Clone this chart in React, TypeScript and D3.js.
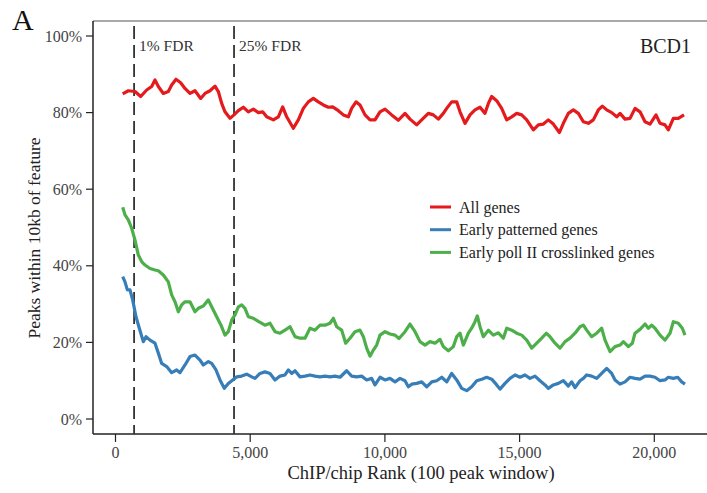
import React from "react";
import * as d3 from "d3";

const allGenes: [number, number][] = [[267,84.9],[476,85.7],[724,85.5],[935,84.2],[1157,85.9],[1343,86.8],[1466,88.5],[1590,86.8],[1775,85.0],[1961,85.5],[2085,87.2],[2246,88.7],[2419,87.8],[2580,86.3],[2765,85.0],[2951,85.7],[3162,83.7],[3322,85.0],[3508,85.7],[3693,86.9],[3817,85.5],[3941,82.4],[4065,80.2],[4250,78.5],[4399,79.4],[4560,80.5],[4745,81.4],[4931,80.2],[5117,80.9],[5302,80.0],[5463,80.2],[5612,78.9],[5860,78.1],[6045,78.9],[6205,81.5],[6354,78.9],[6601,75.9],[6787,78.1],[6972,81.1],[7157,82.8],[7343,83.7],[7528,82.8],[7714,82.0],[7900,81.4],[8061,81.5],[8272,80.5],[8457,79.4],[8643,78.9],[8766,81.1],[8928,82.8],[9076,82.0],[9262,79.4],[9447,78.1],[9633,78.1],[9818,80.2],[10004,80.9],[10252,79.4],[10499,78.0],[10746,79.8],[10932,78.3],[11179,76.8],[11365,78.1],[11612,79.8],[11798,79.4],[11983,78.3],[12169,79.8],[12293,81.1],[12479,82.8],[12665,82.8],[12788,80.2],[12974,77.2],[13159,79.4],[13345,80.7],[13531,81.4],[13716,79.8],[13840,82.4],[13964,84.2],[14149,83.1],[14335,81.1],[14521,78.1],[14707,78.9],[14892,79.8],[15078,79.4],[15264,78.1],[15511,75.5],[15696,76.8],[15882,77.0],[16067,78.1],[16253,77.0],[16476,74.8],[16624,77.2],[16809,79.8],[16995,80.7],[17181,79.8],[17366,77.6],[17552,77.2],[17737,78.1],[17923,80.7],[18071,81.7],[18234,80.7],[18419,80.0],[18605,78.9],[18729,79.8],[18913,78.3],[19099,78.5],[19284,81.1],[19470,80.2],[19656,77.6],[19841,77.0],[20064,79.4],[20212,77.2],[20397,76.8],[20521,75.5],[20707,78.5],[20892,78.5],[21103,79.4]];

const earlyPatterned: [number, number][] = [[267,37.2],[353,35.8],[439,33.7],[538,33.7],[637,31.1],[761,26.7],[884,23.7],[1032,20.2],[1132,21.5],[1281,20.6],[1466,19.8],[1590,17.2],[1714,14.5],[1900,13.7],[2085,12.1],[2271,12.8],[2394,12.1],[2580,14.1],[2765,16.3],[2951,16.7],[3137,15.4],[3260,14.1],[3446,15.0],[3570,14.5],[3731,12.8],[3879,10.2],[4039,8.0],[4188,9.3],[4350,10.2],[4499,11.0],[4684,11.2],[4870,11.7],[5056,11.0],[5178,10.6],[5364,11.9],[5549,12.3],[5735,11.9],[5921,10.2],[6106,11.2],[6292,11.5],[6416,12.8],[6540,11.9],[6663,12.6],[6849,11.0],[7034,11.2],[7220,11.5],[7406,11.2],[7591,11.0],[7777,11.2],[7962,11.0],[8148,11.2],[8334,10.9],[8581,12.6],[8767,11.2],[8953,11.0],[9138,11.2],[9324,10.2],[9510,10.6],[9633,8.9],[9818,10.9],[10004,10.2],[10190,10.6],[10375,9.7],[10561,10.6],[10746,10.0],[10870,8.4],[10995,9.1],[11180,9.3],[11366,9.7],[11552,8.4],[11737,9.7],[11923,10.0],[12109,10.9],[12294,9.7],[12480,11.9],[12665,10.2],[12851,8.0],[13037,7.4],[13222,8.4],[13408,10.0],[13594,10.4],[13779,10.9],[13965,10.4],[14150,8.9],[14273,7.8],[14459,9.3],[14644,10.6],[14830,11.5],[15015,10.9],[15201,11.5],[15387,10.6],[15572,11.2],[15758,10.0],[15944,8.9],[16067,8.0],[16253,8.9],[16438,9.3],[16624,10.0],[16809,8.6],[16934,9.7],[17057,8.2],[17243,10.0],[17367,10.6],[17490,11.5],[17676,11.2],[17862,10.6],[18047,11.9],[18233,13.2],[18419,11.9],[18542,10.2],[18728,9.1],[18913,9.7],[19099,10.9],[19284,10.6],[19470,10.4],[19656,11.2],[19841,11.2],[20027,10.9],[20212,10.0],[20397,10.2],[20521,10.9],[20707,10.6],[20869,10.9],[21017,9.7],[21140,9.1]];

const earlyPolII: [number, number][] = [[267,55.3],[353,53.3],[476,52.0],[600,49.8],[724,46.7],[847,42.8],[971,41.1],[1095,40.2],[1281,39.3],[1466,38.9],[1590,38.7],[1775,37.6],[1961,35.8],[2085,32.4],[2209,30.6],[2332,28.0],[2456,29.8],[2580,30.6],[2765,30.6],[2951,28.0],[3075,28.9],[3260,29.5],[3446,31.1],[3570,29.3],[3756,26.7],[3916,24.5],[4065,21.9],[4188,22.8],[4312,25.8],[4436,27.2],[4560,29.3],[4684,29.8],[4807,28.9],[4931,26.7],[5117,26.3],[5302,25.5],[5549,24.5],[5735,25.0],[5921,22.8],[6106,22.4],[6292,23.2],[6478,24.1],[6663,21.5],[6849,21.1],[7034,21.1],[7220,23.7],[7406,23.2],[7591,24.5],[7777,24.5],[7962,25.0],[8086,26.3],[8210,24.1],[8396,23.2],[8544,19.8],[8705,21.1],[8890,22.8],[9076,23.2],[9200,21.5],[9324,18.5],[9447,16.4],[9571,18.0],[9695,19.3],[9818,21.9],[10004,22.8],[10190,22.2],[10375,21.9],[10524,21.0],[10746,22.8],[10932,24.8],[11118,22.8],[11303,20.2],[11489,19.3],[11674,20.2],[11860,19.8],[12045,20.8],[12169,18.9],[12355,17.8],[12540,18.9],[12665,21.5],[12788,22.4],[12912,19.3],[13097,22.4],[13221,23.7],[13345,25.4],[13431,26.9],[13531,24.1],[13654,21.5],[13840,23.2],[14026,21.9],[14211,22.5],[14397,21.1],[14521,23.7],[14707,23.2],[14892,22.4],[15078,21.9],[15264,20.6],[15449,18.5],[15635,19.8],[15821,21.1],[15990,22.4],[16129,21.5],[16315,19.8],[16500,18.5],[16686,20.2],[16872,21.1],[17057,22.4],[17243,24.1],[17367,24.5],[17490,23.2],[17676,21.5],[17862,22.4],[18047,23.7],[18171,20.6],[18357,17.6],[18542,18.9],[18728,19.3],[18852,20.2],[19037,18.9],[19186,19.8],[19284,22.4],[19470,23.4],[19656,24.8],[19779,23.7],[19903,24.5],[20027,23.7],[20212,21.9],[20397,20.6],[20583,22.4],[20707,25.4],[20892,25.0],[21040,23.7],[21140,21.9]];

const seriesNames = ["All genes", "Early patterned genes", "Early poll II crosslinked genes"];
const seriesColors = ["#e41a1c", "#377eb8", "#4daf4a"];
const yTicks = [0, 20, 40, 60, 80, 100];
const xTicks = [0, 5000, 10000, 15000, 20000];
const fdrLines: [number, string][] = [[690, "1% FDR"], [4400, "25% FDR"]];

const FONT = "'Liberation Serif', 'Times New Roman', serif";

export default function App() {
  const x = d3.scaleLinear().domain([0, 20000]).range([115.5, 654.3]);
  const y = d3.scaleLinear().domain([0, 100]).range([419, 36]);
  const line = d3
    .line<[number, number]>()
    .x((d) => x(d[0]))
    .y((d) => y(d[1]));
  const fmt = d3.format(",");
  const left = 93, top = 21, bottom = 434, right = 710;
  const series = [allGenes, earlyPatterned, earlyPolII];
  const drawOrder = [0, 2, 1];

  return (
    <svg
      width={707}
      height={493}
      style={{ position: "absolute", left: 0, top: 0, background: "#fff" }}
      fontFamily={FONT}
    >
      <rect x={0} y={0} width={707} height={493} fill="#fff" />
      {/* frame */}
      <line x1={left} x2={right} y1={top} y2={top} stroke="#555" strokeWidth={1.2} />
      <line x1={left} x2={left} y1={top} y2={bottom} stroke="#222" strokeWidth={1.5} />
      <line x1={left} x2={right} y1={bottom} y2={bottom} stroke="#222" strokeWidth={1.5} />

      {/* y axis */}
      {yTicks.map((t) => (
        <g key={"y" + t}>
          <line x1={86} x2={left} y1={y(t)} y2={y(t)} stroke="#222" strokeWidth={1.2} />
          <text x={82} y={y(t) + 5.5} textAnchor="end" fontSize={16} fill="#444">
            {t}%
          </text>
        </g>
      ))}
      {/* x axis */}
      {xTicks.map((t) => (
        <g key={"x" + t}>
          <line x1={x(t)} x2={x(t)} y1={bottom} y2={bottom + 8} stroke="#222" strokeWidth={1.2} />
          <text x={x(t)} y={458} textAnchor="middle" fontSize={16} fill="#444">
            {fmt(t)}
          </text>
        </g>
      ))}

      {/* FDR lines */}
      {fdrLines.map(([r, label]) => (
        <g key={label}>
          <line
            x1={x(r)}
            x2={x(r)}
            y1={26}
            y2={bottom}
            stroke="#333"
            strokeWidth={1.8}
            strokeDasharray="13,6"
          />
          <text x={x(r) + 5} y={50.5} fontSize={15.5} fill="#333">
            {label}
          </text>
        </g>
      ))}

      {/* series */}
      {drawOrder.map((i) => (
        <path
          key={seriesNames[i]}
          d={line(series[i]) || ""}
          fill="none"
          stroke={seriesColors[i]}
          strokeWidth={3.2}
          strokeLinejoin="round"
        />
      ))}

      {/* legend */}
      {seriesNames.map((n, i) => (
        <g key={"lg" + n} transform={`translate(430, ${207 + i * 22.7})`}>
          <line x1={0} x2={21} y1={0} y2={0} stroke={seriesColors[i]} strokeWidth={3} />
          <text x={29} y={5.7} fontSize={16} fill="#222">
            {n}
          </text>
        </g>
      ))}

      <text x={691} y={52.7} textAnchor="end" fontSize={20} fill="#222">
        BCD1
      </text>
      <text x={12} y={30} fontSize={30} fill="#111">
        A
      </text>
      <text x={421} y={478.5} textAnchor="middle" fontSize={18.5} fill="#222">
        ChIP/chip Rank (100 peak window)
      </text>
      <text
        transform="translate(40, 238) rotate(-90)"
        textAnchor="middle"
        fontSize={17.5}
        fill="#222"
      >
        Peaks within 10kb of feature
      </text>
    </svg>
  );
}
